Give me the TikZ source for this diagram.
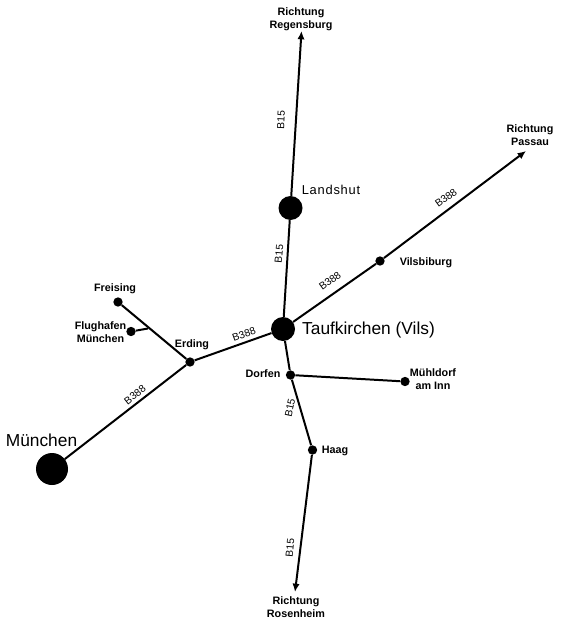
\documentclass[tikz,border=0pt]{standalone}
\usepackage{fontspec}
\setmainfont{Liberation Sans}
\usetikzlibrary{arrows.meta}

\begin{document}
\begin{tikzpicture}[
  x=0.03cm, y=-0.03cm,
  bigcity/.style={circle, fill=black, inner sep=0pt, minimum size=0.72cm},
  metro/.style={circle, fill=black, inner sep=0pt, minimum size=0.96cm},
  town/.style={circle, fill=black, inner sep=0pt, minimum size=0.28cm},
  road/.style={line width=1.7pt},
  arr/.style={road, -{Latex[length=2.5mm,width=2.2mm]}},
  place/.style={font=\fontsize{9.2pt}{11pt}\selectfont\bfseries, align=center, inner sep=0pt},
  city/.style={font=\fontsize{14.8pt}{17pt}\selectfont, inner sep=0pt},
  roadname/.style={font=\fontsize{8.8pt}{9pt}\selectfont, inner sep=0pt},
]
\useasboundingbox (0,0) rectangle (564,625);
% towns
\node[bigcity] (taufkirchen) at (283,329) {};
\node[bigcity] (landshut) at (290.5,208) {};
\node[metro] (muenchen) at (52,469) {};
\node[town] (erding) at (190,362) {};
\node[town] (freising) at (118,302) {};
\node[town] (flughafen) at (131,331.5) {};
\node[town] (dorfen) at (290.5,375) {};
\node[town] (muehldorf) at (405,381.5) {};
\node[town] (haag) at (312.5,450) {};
\node[town] (vilsbiburg) at (380,261) {};
\coordinate (regensburg) at (301.5,31);
\coordinate (passau) at (526,151);
\coordinate (rosenheim) at (295,592);
\coordinate (abzweig) at (148,328.5);
% roads
\draw[road] (muenchen) -- (erding);
\draw[road] (erding) -- (taufkirchen);
\draw[road] (erding) -- (freising);
\draw[road] (flughafen) -- (abzweig);
\draw[road] (taufkirchen) -- (landshut);
\draw[arr] (landshut) -- (regensburg);
\draw[road] (taufkirchen) -- (vilsbiburg);
\draw[arr] (vilsbiburg) -- (passau);
\draw[road] (taufkirchen) -- (dorfen);
\draw[road] (dorfen) -- (muehldorf);
\draw[road] (dorfen) -- (haag);
\draw[arr] (haag) -- (rosenheim);
% names
\node[place] (lregensburg) at (301,19) {Richtung\\Regensburg};
\node[place] (lpassau) at (530,135) {Richtung\\Passau};
\node[place] (lrosenheim) at (296,607.5) {Richtung\\Rosenheim};
\node[place] (lfreising) at (115,288.5) {Freising};
\node[place] (lflughafen) at (100.5,332) {Flughafen\\München};
\node[place] (lerding) at (192,344.5) {Erding};
\node[place] (ldorfen) at (263,374) {Dorfen};
\node[place] (lmuehldorf) at (433,379) {Mühldorf\\am Inn};
\node[place] (lhaag) at (335,450.5) {Haag};
\node[place] (lvilsbiburg) at (426,262.5) {Vilsbiburg};
\node[font=\fontsize{11pt}{13pt}\selectfont\addfontfeature{LetterSpace=6}, inner sep=0pt] (llandshut) at (331,189.5) {Landshut};
\node[city] (ltaufkirchen) at (368.5,330.5) {Taufkirchen (Vils)};
\node[city] (lmuenchen) at (41.5,440.5) {München};
% road numbers
\node[roadname, rotate=87] (ba) at (281,120) {B15};
\node[roadname, rotate=85] (bb) at (279,254) {B15};
\node[roadname, rotate=78] (bc) at (290,408) {B15};
\node[roadname, rotate=85] (bd) at (290,548) {B15};
\node[roadname, rotate=36] (be) at (446,198) {B388};
\node[roadname, rotate=36] (bf) at (330,281) {B388};
\node[roadname, rotate=20] (bg) at (244,334) {B388};
\node[roadname, rotate=38] (bh) at (135,395) {B388};
\end{tikzpicture}
\end{document}
